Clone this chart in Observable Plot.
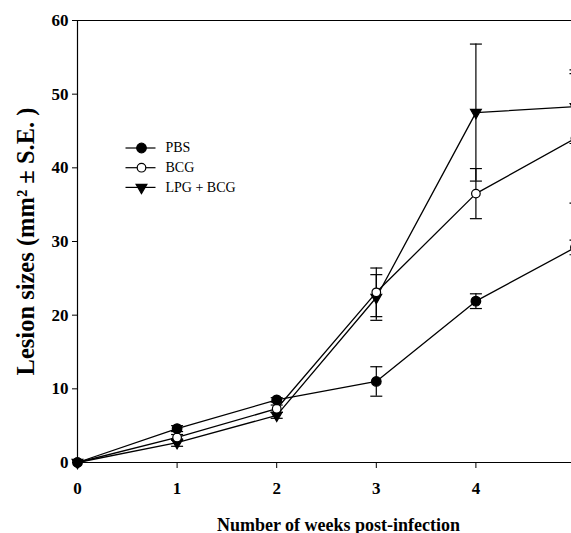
<!DOCTYPE html>
<html><head><meta charset="utf-8">
<script src="https://cdn.jsdelivr.net/npm/d3@7"></script>
<script src="https://cdn.jsdelivr.net/npm/@observablehq/plot@0.6"></script>
<style>html,body{margin:0;padding:0;background:#fff;overflow:hidden}</style>
</head><body><div id="chart"></div>
<script>
const weeks = [0, 1, 2, 3, 4, 5];
const seriesNames = ["PBS", "BCG", "LPG + BCG"];
const pbsValues = [0, 4.6, 8.5, 11.0, 21.9, 29.2];
const pbsErrors = [0, 0.4, 0.3, 2.0, 1.0, 1.0];
const bcgValues = [0, 3.4, 7.3, 23.1, 36.5, 44.0];
const bcgErrors = [0, 0.4, 0.5, 3.3, 3.4, 8.8];
const lpgValues = [0, 2.7, 6.4, 22.4, 47.5, 48.3];
const lpgErrors = [0, 0.5, 0.4, 3.1, 9.3, 5.0];
const xTicks = [0, 1, 2, 3, 4, 5];
const xTickLabels = ["0", "1", "2", "3", "4", ""];
const yTicks = [0, 10, 20, 30, 40, 50, 60];
const yTitle = "Lesion sizes (mm² ± S.E. )";
const xTitle = "Number of weeks post-infection";

const valuesBySeries = [pbsValues, bcgValues, lpgValues];
const errorsBySeries = [pbsErrors, bcgErrors, lpgErrors];
const table = seriesNames.flatMap((s, i) => weeks.map((w, j) => ({
  series: s, week: w, value: valuesBySeries[i][j], err: errorsBySeries[i][j],
  lo: valuesBySeries[i][j] - errorsBySeries[i][j], hi: valuesBySeries[i][j] + errorsBySeries[i][j]
})));
const errTable = table.filter(d => d.err > 0);

const hline = {draw(ctx, size) { const w = Math.sqrt(size / Math.PI); ctx.moveTo(-w, 0); ctx.lineTo(w, 0); }};

const markerStyle = {
  "PBS": {symbol: "circle", fill: "black", stroke: "black", r: 4.8, rotate: 0},
  "BCG": {symbol: "circle", fill: "white", stroke: "black", r: 4.3, rotate: 0},
  "LPG + BCG": {symbol: "triangle", fill: "black", stroke: "black", r: 4, rotate: 180}
};
const drawOrder = ["LPG + BCG", "BCG", "PBS"];
const font = "Liberation Serif";

const legendMarks = seriesNames.flatMap((s, i) => {
  const dy = 127.5 + i * 19.7;
  const st = markerStyle[s];
  return [
    Plot.dot([s], {frameAnchor: "top-left", dx: 63, dy, symbol: hline, r: 15, fill: "none", stroke: "black", strokeWidth: 1.2}),
    Plot.dot([s], {frameAnchor: "top-left", dx: 64, dy, symbol: st.symbol, r: st.r, fill: st.fill, stroke: st.stroke, strokeWidth: 1.2, rotate: st.rotate}),
    Plot.text([s], {frameAnchor: "top-left", dx: 88, dy, text: d => d, textAnchor: "start", lineAnchor: "middle", fontSize: 14, fontFamily: font, fill: "black"})
  ];
});

const chart = Plot.plot({
  width: 571, height: 533,
  marginLeft: 77, marginRight: 0, marginTop: 20, marginBottom: 71,
  style: {color: "black", background: "white", fontFamily: font},
  x: {domain: [0, 5], range: [77, 575]},
  y: {domain: [0, 60]},
  marks: [
    Plot.ruleY([0, 60], {stroke: "black", strokeWidth: 1.2}),
    Plot.ruleX([0], {stroke: "black", strokeWidth: 1.2}),
    Plot.axisY({ticks: yTicks, tickSize: 5, tickPadding: 4, fontSize: 17, fontWeight: "bold", fontFamily: font, label: null}),
    Plot.axisX({ticks: xTicks, tickFormat: (d, i) => xTickLabels[xTicks.indexOf(d)], tickSize: 6, tickPadding: 13, fontSize: 17, fontWeight: "bold", fontFamily: font, label: null}),
    Plot.line(table, {x: "week", y: "value", z: "series", stroke: "black", strokeWidth: 1.3}),
    Plot.ruleX(errTable, {x: "week", y1: "lo", y2: "hi", stroke: "black", strokeWidth: 1.2}),
    Plot.dot(errTable, {x: "week", y: "hi", symbol: hline, r: 6, fill: "none", stroke: "black", strokeWidth: 1.2}),
    Plot.dot(errTable, {x: "week", y: "lo", symbol: hline, r: 6, fill: "none", stroke: "black", strokeWidth: 1.2}),
    ...drawOrder.map(s => {
      const st = markerStyle[s];
      return Plot.dot(table.filter(d => d.series === s), {x: "week", y: "value", symbol: st.symbol, r: st.r, fill: st.fill, stroke: st.stroke, strokeWidth: 1.2, rotate: st.rotate});
    }),
    ...legendMarks,
    Plot.text([yTitle], {frameAnchor: "left", dx: -51, rotate: -90, text: d => d, lineAnchor: "middle", textAnchor: "middle", fontSize: 24.5, fontWeight: "bold", fontFamily: font, fill: "black"}),
    Plot.text([xTitle], {frameAnchor: "bottom", dx: 14, dy: 68, text: d => d, lineAnchor: "bottom", textAnchor: "middle", fontSize: 18, fontWeight: "bold", fontFamily: font, fill: "black"})
  ]
});
document.getElementById("chart").appendChild(chart);
</script>
</body></html>
